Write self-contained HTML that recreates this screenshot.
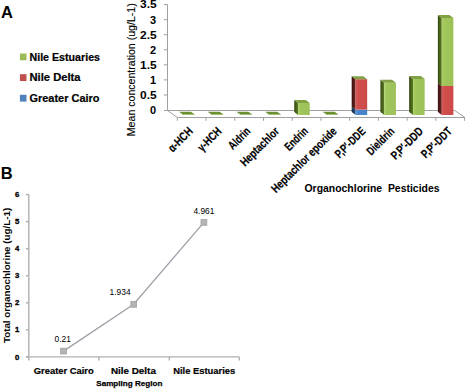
<!DOCTYPE html><html><head><meta charset="utf-8"><style>html,body{margin:0;padding:0;background:#fff;width:467px;height:390px;overflow:hidden;position:relative}</style></head><body><svg width="467" height="390" viewBox="0 0 467 390" style="position:absolute;left:0;top:0">
<rect x="0" y="0" width="467" height="390" fill="#fff"/>
<g stroke="#a0a0a0" stroke-width="1" fill="none">
<line x1="167.5" y1="4.58" x2="167.5" y2="110.5"/>
<line x1="163.8" y1="110.50" x2="167.5" y2="110.50"/>
<line x1="163.8" y1="94.94" x2="167.5" y2="94.94"/>
<line x1="163.8" y1="79.88" x2="167.5" y2="79.88"/>
<line x1="163.8" y1="64.82" x2="167.5" y2="64.82"/>
<line x1="163.8" y1="49.76" x2="167.5" y2="49.76"/>
<line x1="163.8" y1="34.70" x2="167.5" y2="34.70"/>
<line x1="163.8" y1="19.64" x2="167.5" y2="19.64"/>
<line x1="163.8" y1="4.58" x2="167.5" y2="4.58"/>
<polyline points="167.5,110.5 454.8,110.5 464.9,117.5 177.3,117.5 167.5,110.5"/>
<line x1="177.30" y1="117.5" x2="177.30" y2="120.8"/>
<line x1="206.03" y1="117.5" x2="206.03" y2="120.8"/>
<line x1="234.76" y1="117.5" x2="234.76" y2="120.8"/>
<line x1="263.49" y1="117.5" x2="263.49" y2="120.8"/>
<line x1="292.22" y1="117.5" x2="292.22" y2="120.8"/>
<line x1="320.95" y1="117.5" x2="320.95" y2="120.8"/>
<line x1="349.68" y1="117.5" x2="349.68" y2="120.8"/>
<line x1="378.41" y1="117.5" x2="378.41" y2="120.8"/>
<line x1="407.14" y1="117.5" x2="407.14" y2="120.8"/>
<line x1="435.87" y1="117.5" x2="435.87" y2="120.8"/>
<line x1="464.60" y1="117.5" x2="464.60" y2="120.8"/>
</g>
<defs><linearGradient id="gf" x1="0" y1="0" x2="1" y2="0"><stop offset="0" stop-color="#acd066"/><stop offset="0.25" stop-color="#a0c55b"/><stop offset="1" stop-color="#9dc158"/></linearGradient><linearGradient id="gs" x1="0" y1="0" x2="1" y2="0"><stop offset="0" stop-color="#34490f"/><stop offset="1" stop-color="#5c7c26"/></linearGradient><linearGradient id="rf" x1="0" y1="0" x2="1" y2="0"><stop offset="0" stop-color="#d85a58"/><stop offset="0.25" stop-color="#cf4e4c"/><stop offset="1" stop-color="#cc4b4a"/></linearGradient><linearGradient id="rs" x1="0" y1="0" x2="1" y2="0"><stop offset="0" stop-color="#3e1010"/><stop offset="1" stop-color="#6a2422"/></linearGradient><linearGradient id="bf" x1="0" y1="0" x2="1" y2="0"><stop offset="0" stop-color="#5a95d8"/><stop offset="0.25" stop-color="#4a86cc"/><stop offset="1" stop-color="#4783c8"/></linearGradient><linearGradient id="bs" x1="0" y1="0" x2="1" y2="0"><stop offset="0" stop-color="#122a4a"/><stop offset="1" stop-color="#2a5080"/></linearGradient></defs>
<polygon points="179.30,112.10 183.20,115.00 183.20,114.60 179.30,111.70" fill="url(#gs)"/><rect x="183.20" y="114.60" width="11.60" height="0.40" fill="url(#gf)"/><polygon points="179.30,111.70 190.90,111.70 194.80,114.60 183.20,114.60" fill="#6a9030"/>
<polygon points="208.03,112.10 211.93,115.00 211.93,114.60 208.03,111.70" fill="url(#gs)"/><rect x="211.93" y="114.60" width="11.60" height="0.40" fill="url(#gf)"/><polygon points="208.03,111.70 219.63,111.70 223.53,114.60 211.93,114.60" fill="#6a9030"/>
<polygon points="236.76,112.10 240.66,115.00 240.66,114.60 236.76,111.70" fill="url(#gs)"/><rect x="240.66" y="114.60" width="11.60" height="0.40" fill="url(#gf)"/><polygon points="236.76,111.70 248.36,111.70 252.26,114.60 240.66,114.60" fill="#6a9030"/>
<polygon points="265.49,112.10 269.39,115.00 269.39,114.60 265.49,111.70" fill="url(#gs)"/><rect x="269.39" y="114.60" width="11.60" height="0.40" fill="url(#gf)"/><polygon points="265.49,111.70 277.09,111.70 280.99,114.60 269.39,114.60" fill="#6a9030"/>
<polygon points="322.95,112.10 326.85,115.00 326.85,114.60 322.95,111.70" fill="url(#gs)"/><rect x="326.85" y="114.60" width="11.60" height="0.40" fill="url(#gf)"/><polygon points="322.95,111.70 334.55,111.70 338.45,114.60 326.85,114.60" fill="#6a9030"/>
<polygon points="294.22,112.10 298.12,115.00 298.12,103.00 294.22,100.10" fill="url(#gs)"/><rect x="298.12" y="103.00" width="11.60" height="12.00" fill="url(#gf)"/><polygon points="294.22,100.10 305.82,100.10 309.72,103.00 298.12,103.00" fill="#82a044"/>
<polygon points="351.68,112.10 355.58,115.00 355.58,109.60 351.68,106.70" fill="url(#bs)"/><rect x="355.58" y="109.60" width="11.60" height="5.40" fill="url(#bf)"/><polygon points="351.68,106.70 355.58,109.60 355.58,79.20 351.68,76.30" fill="url(#rs)"/><rect x="355.58" y="79.20" width="11.60" height="30.40" fill="url(#rf)"/><polygon points="351.68,76.30 363.28,76.30 367.18,79.20 355.58,79.20" fill="#82a044"/>
<polygon points="380.41,112.10 384.31,115.00 384.31,82.70 380.41,79.80" fill="url(#gs)"/><rect x="384.31" y="82.70" width="11.60" height="32.30" fill="url(#gf)"/><polygon points="380.41,79.80 392.01,79.80 395.91,82.70 384.31,82.70" fill="#82a044"/>
<polygon points="409.14,112.10 413.04,115.00 413.04,78.90 409.14,76.00" fill="url(#gs)"/><rect x="413.04" y="78.90" width="11.60" height="36.10" fill="url(#gf)"/><polygon points="409.14,76.00 420.74,76.00 424.64,78.90 413.04,78.90" fill="#82a044"/>
<polygon points="437.87,112.10 441.77,115.00 441.77,86.00 437.87,83.10" fill="url(#rs)"/><rect x="441.77" y="86.00" width="11.60" height="29.00" fill="url(#rf)"/><polygon points="437.87,83.10 441.77,86.00 441.77,18.00 437.87,15.10" fill="url(#gs)"/><rect x="441.77" y="18.00" width="11.60" height="68.00" fill="url(#gf)"/><polygon points="437.87,15.10 449.47,15.10 453.37,18.00 441.77,18.00" fill="#82a044"/>
<rect x="19.9" y="53.5" width="6.6" height="6.8" fill="#9bbb59"/>
<rect x="19.9" y="74.2" width="6.6" height="6.8" fill="#c0504d"/>
<rect x="19.9" y="94.8" width="6.6" height="6.8" fill="#4f81bd"/>
<g stroke="#b0b0b0" stroke-width="1.4" fill="none">
<line x1="28.8" y1="194.60" x2="28.8" y2="360.4"/>
<line x1="25.900000000000002" y1="356.90" x2="28.8" y2="356.90"/>
<line x1="25.900000000000002" y1="329.85" x2="28.8" y2="329.85"/>
<line x1="25.900000000000002" y1="302.80" x2="28.8" y2="302.80"/>
<line x1="25.900000000000002" y1="275.75" x2="28.8" y2="275.75"/>
<line x1="25.900000000000002" y1="248.70" x2="28.8" y2="248.70"/>
<line x1="25.900000000000002" y1="221.65" x2="28.8" y2="221.65"/>
<line x1="25.900000000000002" y1="194.60" x2="28.8" y2="194.60"/>
<line x1="25.900000000000002" y1="356.9" x2="239.3" y2="356.9"/>
<line x1="98.9" y1="356.9" x2="98.9" y2="360.4"/>
<line x1="169.3" y1="356.9" x2="169.3" y2="360.4"/>
<line x1="239.3" y1="356.9" x2="239.3" y2="360.4"/>
</g>
<polyline points="63.5,351.1 133.7,304.3 203.9,222.4" fill="none" stroke="#a0a0aa" stroke-width="1.35"/>
<rect x="60.60" y="348.20" width="5.8" height="5.8" fill="#b4b4b4" stroke="#a2a2a2" stroke-width="0.8"/>
<rect x="130.80" y="301.40" width="5.8" height="5.8" fill="#b4b4b4" stroke="#a2a2a2" stroke-width="0.8"/>
<rect x="201.00" y="219.50" width="5.8" height="5.8" fill="#b4b4b4" stroke="#a2a2a2" stroke-width="0.8"/>
<text x="1.10" y="17.50" font-family="'Liberation Sans', sans-serif" font-weight="bold" font-size="16.5" fill="#000" xml:space="preserve">A</text>
<text x="0.80" y="179.10" font-family="'Liberation Sans', sans-serif" font-weight="bold" font-size="16.5" fill="#000" xml:space="preserve">B</text>
<text x="29.50" y="60.80" font-family="'Liberation Sans', sans-serif" font-weight="bold" font-size="10.4" fill="#000" textLength="70.50" lengthAdjust="spacingAndGlyphs" stroke="#000" stroke-width="0.2" xml:space="preserve">Nile Estuaries</text>
<text x="29.50" y="81.20" font-family="'Liberation Sans', sans-serif" font-weight="bold" font-size="10.4" fill="#000" textLength="51.00" lengthAdjust="spacingAndGlyphs" stroke="#000" stroke-width="0.2" xml:space="preserve">Nile Delta</text>
<text x="29.50" y="101.60" font-family="'Liberation Sans', sans-serif" font-weight="bold" font-size="10.4" fill="#000" textLength="70.00" lengthAdjust="spacingAndGlyphs" stroke="#000" stroke-width="0.2" xml:space="preserve">Greater Cairo</text>
<text x="156.10" y="113.90" font-family="'Liberation Sans', sans-serif" font-weight="bold" font-size="11" fill="#000" text-anchor="end" xml:space="preserve">0</text>
<text x="156.60" y="98.84" font-family="'Liberation Sans', sans-serif" font-weight="bold" font-size="11" fill="#000" text-anchor="end" textLength="16.60" lengthAdjust="spacingAndGlyphs" xml:space="preserve">0.5</text>
<text x="156.10" y="83.78" font-family="'Liberation Sans', sans-serif" font-weight="bold" font-size="11" fill="#000" text-anchor="end" xml:space="preserve">1</text>
<text x="156.60" y="68.72" font-family="'Liberation Sans', sans-serif" font-weight="bold" font-size="11" fill="#000" text-anchor="end" textLength="16.60" lengthAdjust="spacingAndGlyphs" xml:space="preserve">1.5</text>
<text x="156.10" y="53.66" font-family="'Liberation Sans', sans-serif" font-weight="bold" font-size="11" fill="#000" text-anchor="end" xml:space="preserve">2</text>
<text x="156.60" y="38.60" font-family="'Liberation Sans', sans-serif" font-weight="bold" font-size="11" fill="#000" text-anchor="end" textLength="16.60" lengthAdjust="spacingAndGlyphs" xml:space="preserve">2.5</text>
<text x="156.10" y="23.54" font-family="'Liberation Sans', sans-serif" font-weight="bold" font-size="11" fill="#000" text-anchor="end" xml:space="preserve">3</text>
<text x="156.60" y="8.48" font-family="'Liberation Sans', sans-serif" font-weight="bold" font-size="11" fill="#000" text-anchor="end" textLength="16.60" lengthAdjust="spacingAndGlyphs" xml:space="preserve">3.5</text>
<text transform="translate(134.90,136.20) rotate(-90)" font-family="'Liberation Sans', sans-serif" font-weight="normal" font-size="11" fill="#000" textLength="132.90" lengthAdjust="spacingAndGlyphs" stroke="#000" stroke-width="0.12" xml:space="preserve">Mean concentration (ug/L-1)</text>
<text x="304.50" y="192.00" font-family="'Liberation Sans', sans-serif" font-weight="bold" font-size="10.6" fill="#000" textLength="135.00" lengthAdjust="spacingAndGlyphs" xml:space="preserve">Organochlorine  Pesticides</text>
<text transform="translate(193.50,132.00) rotate(-45)" font-family="'Liberation Sans', sans-serif" font-weight="bold" font-size="11.8" fill="#000" text-anchor="end" textLength="29.50" lengthAdjust="spacingAndGlyphs" stroke="#000" stroke-width="0.2" xml:space="preserve">α-HCH</text>
<text transform="translate(222.30,132.00) rotate(-45)" font-family="'Liberation Sans', sans-serif" font-weight="bold" font-size="11.8" fill="#000" text-anchor="end" textLength="28.50" lengthAdjust="spacingAndGlyphs" stroke="#000" stroke-width="0.2" xml:space="preserve">γ-HCH</text>
<text transform="translate(251.10,132.00) rotate(-45)" font-family="'Liberation Sans', sans-serif" font-weight="bold" font-size="11.8" fill="#000" text-anchor="end" textLength="25.80" lengthAdjust="spacingAndGlyphs" stroke="#000" stroke-width="0.2" xml:space="preserve">Aldrin</text>
<text transform="translate(279.90,132.00) rotate(-45)" font-family="'Liberation Sans', sans-serif" font-weight="bold" font-size="11.8" fill="#000" text-anchor="end" textLength="49.50" lengthAdjust="spacingAndGlyphs" stroke="#000" stroke-width="0.2" xml:space="preserve">Heptachlor</text>
<text transform="translate(308.70,132.00) rotate(-45)" font-family="'Liberation Sans', sans-serif" font-weight="bold" font-size="11.8" fill="#000" text-anchor="end" textLength="27.50" lengthAdjust="spacingAndGlyphs" stroke="#000" stroke-width="0.2" xml:space="preserve">Endrin</text>
<text transform="translate(337.50,132.00) rotate(-45)" font-family="'Liberation Sans', sans-serif" font-weight="bold" font-size="11.8" fill="#000" text-anchor="end" textLength="87.00" lengthAdjust="spacingAndGlyphs" stroke="#000" stroke-width="0.2" xml:space="preserve">Heptachlor epoxide</text>
<text transform="translate(366.30,132.00) rotate(-45)" font-family="'Liberation Sans', sans-serif" font-weight="bold" font-size="11.8" fill="#000" text-anchor="end" textLength="38.00" lengthAdjust="spacingAndGlyphs" stroke="#000" stroke-width="0.2" xml:space="preserve">P,P′-DDE</text>
<text transform="translate(395.10,132.00) rotate(-45)" font-family="'Liberation Sans', sans-serif" font-weight="bold" font-size="11.8" fill="#000" text-anchor="end" textLength="33.80" lengthAdjust="spacingAndGlyphs" stroke="#000" stroke-width="0.2" xml:space="preserve">Dieldrin</text>
<text transform="translate(423.90,132.00) rotate(-45)" font-family="'Liberation Sans', sans-serif" font-weight="bold" font-size="11.8" fill="#000" text-anchor="end" textLength="40.00" lengthAdjust="spacingAndGlyphs" stroke="#000" stroke-width="0.2" xml:space="preserve">P,P′-DDD</text>
<text transform="translate(452.70,132.00) rotate(-45)" font-family="'Liberation Sans', sans-serif" font-weight="bold" font-size="11.8" fill="#000" text-anchor="end" textLength="38.00" lengthAdjust="spacingAndGlyphs" stroke="#000" stroke-width="0.2" xml:space="preserve">P,P′-DDT</text>
<text transform="translate(9.90,343.10) rotate(-90)" font-family="'Liberation Sans', sans-serif" font-weight="bold" font-size="9.9" fill="#000" textLength="135.30" lengthAdjust="spacingAndGlyphs" xml:space="preserve">Total organochlorine (ug/L-1)</text>
<text x="19.30" y="359.50" font-family="'Liberation Sans', sans-serif" font-weight="bold" font-size="7.7" fill="#000" text-anchor="end" stroke="#000" stroke-width="0.35" xml:space="preserve">0</text>
<text x="19.30" y="332.47" font-family="'Liberation Sans', sans-serif" font-weight="bold" font-size="7.7" fill="#000" text-anchor="end" stroke="#000" stroke-width="0.35" xml:space="preserve">1</text>
<text x="19.30" y="305.44" font-family="'Liberation Sans', sans-serif" font-weight="bold" font-size="7.7" fill="#000" text-anchor="end" stroke="#000" stroke-width="0.35" xml:space="preserve">2</text>
<text x="19.30" y="278.41" font-family="'Liberation Sans', sans-serif" font-weight="bold" font-size="7.7" fill="#000" text-anchor="end" stroke="#000" stroke-width="0.35" xml:space="preserve">3</text>
<text x="19.30" y="251.38" font-family="'Liberation Sans', sans-serif" font-weight="bold" font-size="7.7" fill="#000" text-anchor="end" stroke="#000" stroke-width="0.35" xml:space="preserve">4</text>
<text x="19.30" y="224.35" font-family="'Liberation Sans', sans-serif" font-weight="bold" font-size="7.7" fill="#000" text-anchor="end" stroke="#000" stroke-width="0.35" xml:space="preserve">5</text>
<text x="19.30" y="197.32" font-family="'Liberation Sans', sans-serif" font-weight="bold" font-size="7.7" fill="#000" text-anchor="end" stroke="#000" stroke-width="0.35" xml:space="preserve">6</text>
<text x="63.75" y="374.10" font-family="'Liberation Sans', sans-serif" font-weight="bold" font-size="9.4" fill="#000" text-anchor="middle" stroke="#000" stroke-width="0.2" xml:space="preserve">Greater Cairo</text>
<text x="133.40" y="374.10" font-family="'Liberation Sans', sans-serif" font-weight="bold" font-size="9.4" fill="#000" text-anchor="middle" textLength="45.00" lengthAdjust="spacingAndGlyphs" stroke="#000" stroke-width="0.2" xml:space="preserve">Nile Delta</text>
<text x="204.20" y="374.10" font-family="'Liberation Sans', sans-serif" font-weight="bold" font-size="9.4" fill="#000" text-anchor="middle" stroke="#000" stroke-width="0.2" xml:space="preserve">Nile Estuaries</text>
<text x="129.30" y="385.60" font-family="'Liberation Sans', sans-serif" font-weight="bold" font-size="8.1" fill="#000" text-anchor="middle" stroke="#000" stroke-width="0.25" xml:space="preserve">Sampling Region</text>
<text x="54.50" y="342.10" font-family="'Liberation Sans', sans-serif" font-weight="normal" font-size="8.4" fill="#000" xml:space="preserve">0.21</text>
<text x="109.60" y="294.80" font-family="'Liberation Sans', sans-serif" font-weight="normal" font-size="8.4" fill="#000" xml:space="preserve">1.934</text>
<text x="193.40" y="214.00" font-family="'Liberation Sans', sans-serif" font-weight="normal" font-size="8.4" fill="#000" xml:space="preserve">4.961</text>
</svg></body></html>
